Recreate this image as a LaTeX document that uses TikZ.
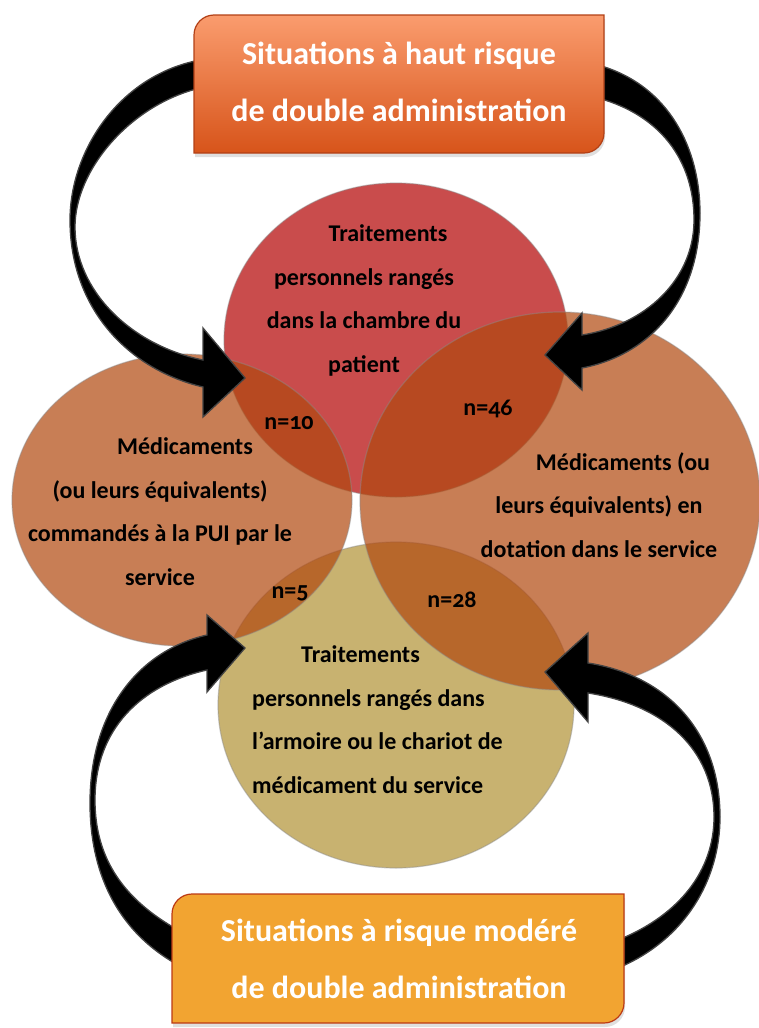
\documentclass[tikz,border=0pt]{standalone}
\usepackage{fontspec}
\setmainfont{Carlito}
\usepackage{tikz}
\usetikzlibrary{shapes.geometric,shadows}

\definecolor{chambrered}{RGB}{201,76,76}
\definecolor{setorange}{RGB}{177,73,16}
\definecolor{setkhaki}{RGB}{200,178,112}
\definecolor{hauttop}{RGB}{250,156,110}
\definecolor{hautbot}{RGB}{215,84,26}
\definecolor{hautrim}{RGB}{178,64,22}
\definecolor{moderefill}{RGB}{242,164,49}
\definecolor{moderim}{RGB}{188,58,20}
\definecolor{arrowrim}{RGB}{68,68,68}

\begin{document}
\begin{tikzpicture}[x=1pt, y=-1pt,
  setnode/.style={ellipse, inner sep=0pt, draw=black!45, draw opacity=0.45, line width=1.2pt},
  settext/.style={align=center, inner sep=0pt, font=\fontsize{24}{43.5}\selectfont\bfseries},
  countnode/.style={inner sep=0pt, font=\fontsize{24}{28}\selectfont\bfseries\addfontfeatures{Numbers=OldStyle}},
  boxtext/.style={align=center, inner sep=0pt, text=white, font=\fontsize{32}{57}\selectfont\bfseries},
  bigarrow/.style={fill=black, draw=arrowrim, line width=1.3pt, line join=miter}]
\useasboundingbox (0,0) rectangle (758,1028);
%\fill[white] (0,0) rectangle (758,1028);
\node[setnode, fill=setkhaki, minimum width=356pt, minimum height=326pt] at (396, 705) (armoire) {};
\node[setnode, fill=chambrered, minimum width=344pt, minimum height=314pt] at (396, 340) (chambre) {};
\node[setnode, fill=setorange, fill opacity=0.71, minimum width=340pt, minimum height=292pt] at (182, 500) (pui) {};
\node[setnode, fill=setorange, fill opacity=0.71, minimum width=400pt, minimum height=378pt] at (560, 501) (dotation) {};

% base = last line
\node[settext, anchor=base] at (364, 372) (chambretxt) {\hspace*{48pt}Traitements\\personnels rangés\\dans la chambre du\\patient};
\node[settext, anchor=base] at (160, 585) (puitxt) {\hspace*{50pt}Médicaments\\(ou leurs équivalents)\\commandés à la PUI par le\\service};
\node[settext, anchor=base] at (599, 557) (dotationtxt) {\hspace*{48pt}Médicaments (ou\\leurs équivalents) en\\dotation dans le service};
\node[settext, align=left, anchor=base west] at (252, 793) (armoiretxt) {\hspace*{49pt}Traitements\\personnels rangés dans\\l’armoire ou le chariot de\\médicament du service};

\node[countnode, anchor=base] at (289, 429) (n10) {n=10};
\node[countnode, anchor=base] at (488, 415) (n46) {n=46};
\node[countnode, anchor=base] at (290, 598) (n5) {n=5};
\node[countnode, anchor=base] at (452, 607) (n28) {n=28};

% arrows
\draw[bigarrow] (200,60) .. controls (120,75) and (70,150) .. (70,220) .. controls (70,310) and (130,370) .. (203,387)
  -- (203,417) -- (245,378) -- (203,328) -- (203,360)
  .. controls (130,345) and (75,290) .. (75,227) .. controls (75,170) and (130,105) .. (200,88) -- cycle;
\draw[bigarrow] (598,65) .. controls (670,85) and (700,150) .. (700,213) .. controls (700,300) and (650,355) .. (582,368)
  -- (582,390) -- (545,355) -- (582,313) -- (582,335)
  .. controls (645,325) and (694,280) .. (694,220) .. controls (694,160) and (660,115) .. (598,98) -- cycle;
\draw[bigarrow] (178,965) .. controls (115,930) and (90,870) .. (90,803) .. controls (90,710) and (140,650) .. (207,635)
  -- (207,615) -- (245,648) -- (207,692) -- (207,670)
  .. controls (140,685) and (95,730) .. (95,800) .. controls (95,860) and (125,900) .. (178,930) -- cycle;
\draw[bigarrow] (618,968) .. controls (685,940) and (720,880) .. (720,817) .. controls (720,730) and (665,675) .. (588,663)
  -- (588,633) -- (545,672) -- (588,722) -- (588,693)
  .. controls (665,705) and (714,750) .. (714,817) .. controls (714,870) and (680,915) .. (618,940) -- cycle;

% boxes
\path[top color=hauttop, bottom color=hautbot, draw=hautrim, line width=1.2pt, drop shadow={opacity=0.25, shadow xshift=1pt, shadow yshift=-4pt}]
  (194,153) -- (194,35) .. controls (194,24) and (203,15) .. (214,15) -- (604,15) -- (604,133) .. controls (604,144) and (595,153) .. (584,153) -- cycle;
\node[boxtext, anchor=base] at (399, 121) (hautbox) {Situations à haut risque\\de double administration};
\path[fill=moderefill, draw=moderim, line width=1.2pt, drop shadow={opacity=0.25, shadow xshift=1pt, shadow yshift=-4pt}]
  (172,1023) -- (172,914) .. controls (172,903) and (181,894) .. (192,894) -- (624,894) -- (624,1003) .. controls (624,1014) and (615,1023) .. (604,1023) -- cycle;
\node[boxtext, anchor=base] at (399, 998) (moderebox) {Situations à risque modéré\\de double administration};
\end{tikzpicture}
\end{document}
